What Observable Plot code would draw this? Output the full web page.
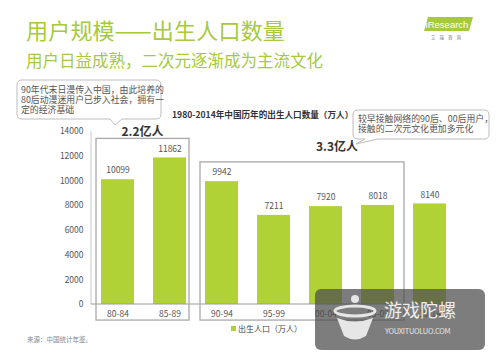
<!DOCTYPE html>
<html><head><meta charset="utf-8">
<script src="https://cdn.jsdelivr.net/npm/d3@7"></script>
<script src="https://cdn.jsdelivr.net/npm/@observablehq/plot@0.6"></script>
<style>
body{margin:0;background:#fff;font-family:"Noto Sans CJK SC","Noto Sans",sans-serif;}
#wrap{position:relative;width:500px;height:361px;overflow:hidden;background:#fff;}
.abs{position:absolute;white-space:nowrap;}
</style></head>
<body><div id="wrap">
<div class="abs" style="left:26px;top:13px;font-size:22px;color:#a6ca3c;letter-spacing:0.2px">用户规模——出生人口数量</div>
<div class="abs" style="left:26px;top:48px;font-size:16.5px;color:#a6ca3c">用户日益成熟，二次元逐渐成为主流文化</div>
<div id="chart" class="abs" style="left:0;top:0"></div>
</div>
<script>
const categories = ["80-84","85-89","90-94","95-99","00-04","05-09","10-14"];
const births = [10099, 11862, 9942, 7211, 7920, 8018, 8140];
const yTicks = [0,2000,4000,6000,8000,10000,12000,14000];
const groupLabels = ["2.2亿人","3.3亿人"];
const groupFrom = ["80-84","90-94"];
const groupTo = ["85-89","05-09"];
const groupTop = [13400, 11500];
const groupLabelY = [13930, 12700];
const chartTitle = "1980-2014年中国历年的出生人口数量（万人）";
const legendLabel = "出生人口（万人）";
const note1 = ["90年代末日漫传入中国，由此培养的","80后动漫迷用户已步入社会，拥有一","定的经济基础"];
const note2 = ["较早接触网络的90后、00后用户，","接触的二次元文化更加多元化"];
const source = "来源：中国统计年鉴。";

const data = categories.map((c,i)=>({cat:c, v:births[i]}));
const green = "#b0d236";
const font = '"Noto Sans CJK SC","Noto Sans",sans-serif';

function overlay(index, scales, values, dims) {
  const x = scales.x, y = scales.y, bw = x.bandwidth();
  const g = d3.create("svg:g").attr("font-family", font).attr("text-anchor","start");
  // axis lines
  g.append("line").attr("x1", dims.marginLeft).attr("x2", dims.marginLeft)
    .attr("y1", y(14000)).attr("y2", y(0)).attr("stroke", "#c8c8c8");
  g.append("line").attr("x1", dims.marginLeft).attr("x2", dims.width - dims.marginRight - 3)
    .attr("y1", y(0)).attr("y2", y(0)).attr("stroke", "#9a9a9a");
  // group boxes
  groupLabels.forEach((lab,i)=>{
    const x1 = x(groupFrom[i]) - 5;
    const x2 = x(groupTo[i]) + bw + (i===0 ? 3 : 10);
    g.append("rect").attr("x", x1).attr("y", y(groupTop[i]))
      .attr("width", x2 - x1).attr("height", y(-1300) - y(groupTop[i]))
      .attr("fill","none").attr("stroke","#a8a8a8").attr("stroke-width",1.3);
    const cx = i===0 ? (x1+x2)/2 : (x1+x2)/2 + 35;
    g.append("text").attr("x", cx).attr("y", y(groupLabelY[i])).attr("dy","0.35em")
      .attr("text-anchor","middle").attr("font-size",12).attr("font-weight","bold")
      .attr("fill","#333").text(lab);
  });
  // title
  g.append("text").attr("x", 172).attr("y", 115).attr("dy","0.35em")
    .attr("font-size",8.6).attr("font-weight","bold").attr("fill","#333").text(chartTitle);
  // callout 1
  const c1 = g.append("g");
  c1.append("path").attr("d","M22,80 H156 Q161,80 161,85 V114 Q161,119 156,119 H122 L115,125 L110,119 H22 Q17,119 17,114 V85 Q17,80 22,80 Z")
    .attr("fill","#fff").attr("stroke","#bdbdbd");
  note1.forEach((t,k)=>c1.append("text").attr("x",21).attr("y",89.5+k*10).attr("dy","0.35em")
    .attr("font-size",8.9).attr("fill","#555").text(t));
  // callout 2
  const c2 = g.append("g");
  c2.append("path").attr("d","M358,110 H484 Q489,110 489,115 V134 Q489,139 484,139 H378 L356,144 L365,139 H358 Q353,139 353,134 V115 Q353,110 358,110 Z")
    .attr("fill","#fff").attr("stroke","#bdbdbd");
  note2.forEach((t,k)=>c2.append("text").attr("x",358).attr("y",118.5+k*10).attr("dy","0.35em")
    .attr("font-size",8.9).attr("fill","#555").text(t));
  // legend
  g.append("rect").attr("x",231).attr("y",326).attr("width",5).attr("height",5).attr("fill",green);
  g.append("text").attr("x",238).attr("y",329).attr("dy","0.35em").attr("font-size",8)
    .attr("fill","#444").text(legendLabel);
  // source
  g.append("text").attr("x",27).attr("y",340).attr("dy","0.35em").attr("font-size",6.5)
    .attr("fill","#888").text(source);
  // logo
  g.append("path").attr("d","M428,17 H473 L469,31 H424 Z").attr("fill","#a6ca3c");
  g.append("text").attr("x",447).attr("y",24.5).attr("dy","0.35em").attr("text-anchor","middle")
    .attr("font-size",9.5).attr("fill","#fff").attr("font-family","Liberation Sans, sans-serif").text("iResearch");
  g.append("text").attr("x",448).attr("y",37).attr("dy","0.35em").attr("text-anchor","middle")
    .attr("font-size",4.5).attr("fill","#777").attr("letter-spacing","4").text("艾瑞咨询");
  // watermark
  const w = g.append("g");
  w.append("rect").attr("x",315).attr("y",289).attr("width",170).attr("height",61).attr("rx",6)
    .attr("fill","rgba(75,75,75,0.72)");
  w.append("ellipse").attr("cx",355).attr("cy",311).attr("rx",20).attr("ry",5).attr("fill","none").attr("stroke","#e6e6e6").attr("stroke-width",3);
  w.append("path").attr("d","M337,318 Q355,325 373,318 L366,336 Q355,343 344,336 Z").attr("fill","#e6e6e6");
  w.append("circle").attr("cx",355).attr("cy",299).attr("r",4).attr("fill","#e6e6e6");
  w.append("text").attr("x",384).attr("y",311).attr("dy","0.35em").attr("font-size",18)
    .attr("fill","#eeeeee").text("游戏陀螺");
  w.append("text").attr("x",385).attr("y",331).attr("dy","0.35em").attr("font-size",7.5)
    .attr("fill","#e6e6e6").attr("letter-spacing","-0.3").text("YOUXITUOLUO.COM");
  return g.node();
}

const plot = Plot.plot({
  width: 500, height: 361,
  marginLeft: 91, marginRight: 44, marginTop: 131, marginBottom: 57,
  style: {fontFamily: font, fontSize: "8.5px", color: "#555", background: "transparent"},
  x: {domain: categories, paddingInner: 0.37, paddingOuter: 0.17, label: null, tickSize: 0, tickPadding: 6},
  y: {domain: [0,14000], ticks: yTicks, tickSize: 0, tickPadding: 8, label: null, tickFormat: d=>String(d)},
  marks: [
    Plot.barY(data, {x:"cat", y:"v", fill: green}),
    Plot.text(data, {x:"cat", y:"v", text: d=>String(d.v), dy:-9, fontSize: 8.5, fill:"#555"}),
    overlay
  ]
});
document.getElementById("chart").appendChild(plot);
</script>
</body></html>
